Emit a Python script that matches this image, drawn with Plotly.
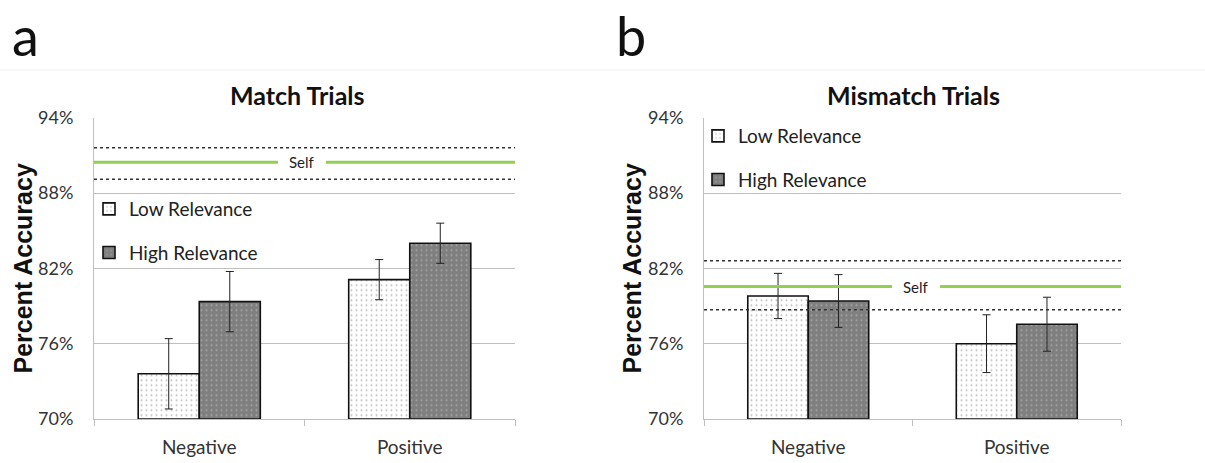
import plotly.graph_objects as go

# ---- data ----
categories = ["Negative", "Positive"]
match_low = [73.6, 81.1]
match_low_err = [2.8, 1.6]
match_high = [79.35, 84.0]
match_high_err = [2.4, 1.6]
mismatch_low = [79.8, 76.0]
mismatch_low_err = [1.8, 2.3]
mismatch_high = [79.4, 77.55]
mismatch_high_err = [2.1, 2.15]
self_match = [89.1, 90.45, 91.6]      # lower, mean, upper
self_mismatch = [78.7, 80.55, 82.6]
y_ticks = [70, 76, 82, 88, 94]
y_tick_labels = ["70%", "76%", "82%", "88%", "94%"]

W, H = 1205, 463
def px(x): return x / W
def py(y): return 1 - y / H

FONT = "Lato"
GRID = "#bfbfbf"
GREEN = "#92d050"

fig = go.Figure()

def add_bars(xa, ya, low, low_err, high, high_err, legend):
    fig.add_trace(go.Bar(
        x=categories, y=[v - 70 for v in low], base=70, name="Low Relevance",
        xaxis=xa, yaxis=ya, legend=legend, legendgroup=legend + "low",
        marker=dict(color="white", line=dict(color="#111", width=1.6),
                    pattern=dict(shape=".", fgcolor="#7a7a7a", bgcolor="white",
                                 size=5, solidity=0.12, fillmode="overlay")),
        error_y=dict(type="data", array=low_err, color="#222", thickness=1, width=4),
    ))
    fig.add_trace(go.Bar(
        x=categories, y=[v - 70 for v in high], base=70, name="High Relevance",
        xaxis=xa, yaxis=ya, legend=legend, legendgroup=legend + "high",
        marker=dict(color="#7f7f7f", line=dict(color="#111", width=1.6),
                    pattern=dict(shape=".", fgcolor="#d0d0d0", bgcolor="#7f7f7f",
                                 size=5, solidity=0.12, fillmode="overlay")),
        error_y=dict(type="data", array=high_err, color="#222", thickness=1, width=4),
    ))

add_bars("x", "y", match_low, match_low_err, match_high, match_high_err, "legend")
add_bars("x2", "y2", mismatch_low, mismatch_low_err, mismatch_high, mismatch_high_err, "legend2")

axis_common_y = dict(range=[70, 94], tickvals=y_ticks, ticktext=y_tick_labels,
                     showgrid=True, gridcolor=GRID, gridwidth=1,
                     showline=True, linecolor=GRID, linewidth=1, zeroline=False,
                     tickfont=dict(family=FONT, size=18, color="#333"), ticks="",
                     ticklabelstandoff=16, automargin=False, fixedrange=True)
axis_common_x = dict(showline=True, linecolor=GRID, linewidth=1, ticks="outside",
                     tickson="boundaries", ticklen=6, tickcolor=GRID,
                     tickfont=dict(family=FONT, size=19, color="#333"),
                     ticklabelstandoff=11,
                     range=[-0.5, 1.5], showgrid=False, automargin=False)

fig.update_layout(
    template="none",
    width=W, height=H, margin=dict(l=0, r=0, t=0, b=0, autoexpand=False),
    paper_bgcolor="white", plot_bgcolor="white",
    barmode="group", bargap=0.42, bargroupgap=0,
    xaxis=dict(domain=[px(94), px(515)], anchor="y", **axis_common_x),
    yaxis=dict(domain=[py(419), py(117.7)], anchor="x", **axis_common_y),
    xaxis2=dict(domain=[px(704), px(1121)], anchor="y2", **axis_common_x),
    yaxis2=dict(domain=[py(419), py(117.7)], anchor="x2", **axis_common_y),
    legend=dict(x=px(89), y=py(190), xanchor="left", yanchor="top",
                font=dict(family=FONT, size=19, color="#222"),
                bgcolor="rgba(0,0,0,0)", traceorder="grouped", tracegroupgap=16,
                itemclick=False),
    legend2=dict(x=px(698), y=py(117), xanchor="left", yanchor="top",
                 font=dict(family=FONT, size=19, color="#222"),
                 bgcolor="rgba(0,0,0,0)", traceorder="grouped", tracegroupgap=16,
                 itemclick=False),
    showlegend=True,
)

# self reference lines
def add_self(xref, yref, vals, gap):
    lo, mean, hi = vals
    for v in (lo, hi):
        fig.add_shape(type="line", xref=xref + " domain", yref=yref, x0=0, x1=1, y0=v, y1=v,
                      line=dict(color="#333", width=1.5, dash="dot"))
    fig.add_shape(type="line", xref=xref + " domain", yref=yref, x0=0, x1=gap[0], y0=mean, y1=mean,
                  line=dict(color=GREEN, width=3))
    fig.add_shape(type="line", xref=xref + " domain", yref=yref, x0=gap[1], x1=1, y0=mean, y1=mean,
                  line=dict(color=GREEN, width=3))
    fig.add_annotation(xref=xref + " domain", yref=yref, x=(gap[0] + gap[1]) / 2, y=mean,
                       xanchor="center", yanchor="middle",
                       text="Self", showarrow=False, font=dict(family=FONT, size=15, color="#222"))

add_self("x", "y", self_match, (0.437, 0.551))
add_self("x2", "y2", self_mismatch, (0.451, 0.566))

# titles
fig.add_annotation(xref="paper", yref="paper", x=px(297), y=py(95), text="<b>Match Trials</b>",
                   xanchor="center", yanchor="middle",
                   showarrow=False, font=dict(family=FONT, size=25, color="#111"))
fig.add_annotation(xref="paper", yref="paper", x=px(913), y=py(95), text="<b>Mismatch Trials</b>",
                   xanchor="center", yanchor="middle",
                   showarrow=False, font=dict(family=FONT, size=25, color="#111"))
for xc in (22, 631):
    fig.add_annotation(xref="paper", yref="paper", x=px(xc), y=py(268.5), text="<b>Percent Accuracy</b>",
                       xanchor="center", yanchor="middle",
                       textangle=-90, showarrow=False,
                       font=dict(family="Liberation Sans", size=25, color="#111"))
# panel labels
fig.add_annotation(xref="paper", yref="paper", x=px(10), y=py(1), text="a",
                   xanchor="left", yanchor="top",
                   showarrow=False, font=dict(family=FONT, size=54, color="#111"))
fig.add_annotation(xref="paper", yref="paper", x=px(614), y=py(1), text="b",
                   xanchor="left", yanchor="top",
                   showarrow=False, font=dict(family=FONT, size=54, color="#111"))
# faint separator
fig.add_shape(type="line", xref="paper", yref="paper", x0=0, x1=1, y0=py(70), y1=py(70),
              line=dict(color="#f0f0f0", width=1))

fig.write_html("out.html")
